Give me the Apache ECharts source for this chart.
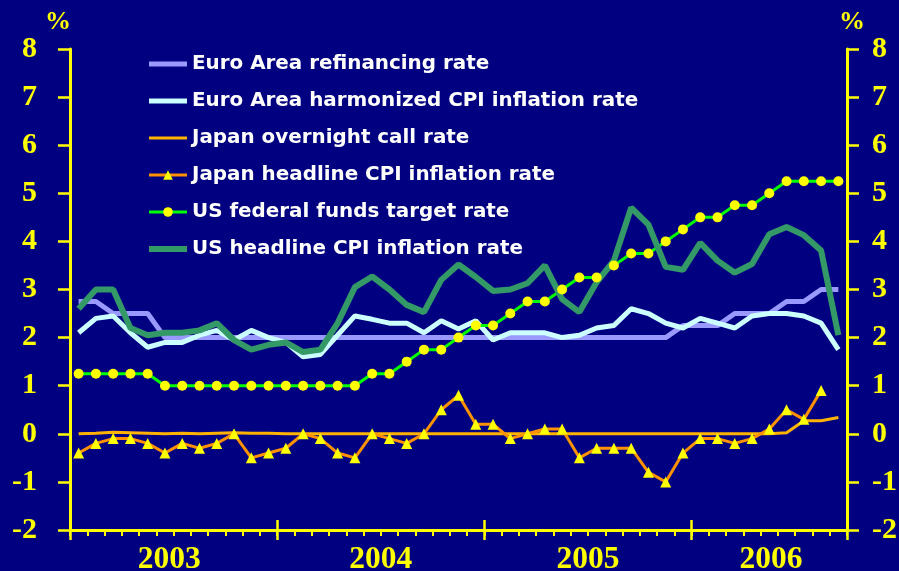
<!DOCTYPE html>
<html>
<head>
<meta charset="utf-8">
<script src="https://cdn.jsdelivr.net/npm/echarts@6/dist/echarts.min.js"></script>
<style>
html,body{margin:0;padding:0;background:#000080;}
#chart{width:899px;height:571px;}
</style>
</head>
<body>
<div id="chart"></div>
<script>
const months = [
 '2003-01','2003-02','2003-03','2003-04','2003-05','2003-06','2003-07','2003-08','2003-09','2003-10','2003-11','2003-12',
 '2004-01','2004-02','2004-03','2004-04','2004-05','2004-06','2004-07','2004-08','2004-09','2004-10','2004-11','2004-12',
 '2005-01','2005-02','2005-03','2005-04','2005-05','2005-06','2005-07','2005-08','2005-09','2005-10','2005-11','2005-12',
 '2006-01','2006-02','2006-03','2006-04','2006-05','2006-06','2006-07','2006-08','2006-09'
];
const yearLabels = ['2003','2004','2005','2006'];

const euroRefi = [
 2.75,2.75,2.5,2.5,2.5,2.0,2.0,2.0,2.0,2.0,2.0,2.0,
 2.0,2.0,2.0,2.0,2.0,2.0,2.0,2.0,2.0,2.0,2.0,2.0,
 2.0,2.0,2.0,2.0,2.0,2.0,2.0,2.0,2.0,2.0,2.0,2.25,
 2.25,2.25,2.5,2.5,2.5,2.75,2.75,3.0,3.0
];
const euroHicp = [
 2.1,2.4,2.45,2.1,1.8,1.9,1.9,2.05,2.15,1.95,2.15,2.0,
 1.9,1.6,1.65,2.05,2.45,2.38,2.3,2.3,2.1,2.35,2.18,2.35,
 1.95,2.1,2.1,2.1,2.0,2.05,2.2,2.25,2.6,2.5,2.3,2.2,
 2.4,2.3,2.2,2.45,2.5,2.5,2.45,2.3,1.75
];
const japanCall = [
 0.0,0.01,0.03,0.02,0.01,0.0,0.01,0.0,0.01,0.02,0.01,0.01,
 0.0,0.0,0.0,0.0,0.0,0.0,0.0,0.0,0.0,0.0,0.0,0.0,
 0.0,0.0,0.0,0.0,0.0,0.0,0.0,0.0,0.0,0.0,0.0,0.0,
 0.0,0.0,0.0,0.0,0.0,0.02,0.27,0.27,0.34
];
const japanCpi = [
 -0.4,-0.2,-0.1,-0.1,-0.2,-0.4,-0.2,-0.3,-0.2,0.0,-0.5,-0.4,
 -0.3,0.0,-0.1,-0.4,-0.5,0.0,-0.1,-0.2,0.0,0.5,0.8,0.2,
 0.2,-0.1,0.0,0.1,0.1,-0.5,-0.3,-0.3,-0.3,-0.8,-1.0,-0.4,
 -0.1,-0.1,-0.2,-0.1,0.1,0.5,0.3,0.9,null
];
const usFedFunds = [
 1.25,1.25,1.25,1.25,1.25,1.0,1.0,1.0,1.0,1.0,1.0,1.0,
 1.0,1.0,1.0,1.0,1.0,1.25,1.25,1.5,1.75,1.75,2.0,2.25,
 2.25,2.5,2.75,2.75,3.0,3.25,3.25,3.5,3.75,3.75,4.0,4.25,
 4.5,4.5,4.75,4.75,5.0,5.25,5.25,5.25,5.25
];
const usCpi = [
 2.6,3.0,3.0,2.2,2.05,2.1,2.1,2.15,2.3,1.95,1.75,1.85,
 1.9,1.7,1.75,2.3,3.05,3.27,3.0,2.68,2.53,3.2,3.52,3.26,
 2.97,3.0,3.13,3.5,2.8,2.53,3.15,3.6,4.7,4.35,3.47,3.41,
 3.97,3.6,3.35,3.53,4.15,4.3,4.13,3.81,2.05
];

const YEL = '#FFFF00';
const serif = '"Liberation Serif","Times New Roman",serif';
const sans = '"DejaVu Sans",Verdana,sans-serif';

const chart = echarts.init(document.getElementById('chart'), null, {renderer:'canvas'});

const majorTick = (i) => i % 12 === 0 || i === months.length;

const yAxisCommon = {
  type:'value', min:-2, max:8, interval:1,
  splitLine:{show:false},
  axisLine:{show:true, onZero:false, lineStyle:{color:YEL, width:3}},
  axisTick:{show:true, length:12, lineStyle:{color:YEL, width:2.5}},
  name:'%',
  nameLocation:'end',
  nameGap:14,
  nameTextStyle:{color:YEL, fontFamily:serif, fontWeight:'bold', fontSize:26}
};

const S = {
  refi:'Euro Area refinancing rate',
  hicp:'Euro Area harmonized CPI inflation rate',
  call:'Japan overnight call rate',
  jcpi:'Japan headline CPI inflation rate',
  ff:'US federal funds target rate',
  ucpi:'US headline CPI inflation rate'
};

chart.setOption({
  backgroundColor:'#000080',
  animation:false,
  grid:{left:70, right:52, top:49, bottom:41, containLabel:false, outerBoundsMode:'none'},
  legend:{
    orient:'vertical', left:146, top:54, padding:0, itemWidth:38, itemHeight:12, itemGap:17,
    textStyle:{color:'#FFFFFF', fontFamily:sans, fontWeight:'bold', fontSize:19.9},
    data:[
      {name:S.refi, itemStyle:{opacity:0}, lineStyle:{width:5}},
      {name:S.hicp, itemStyle:{opacity:0}, lineStyle:{width:5}},
      {name:S.call, itemStyle:{opacity:0}, lineStyle:{width:3}},
      {name:S.jcpi, lineStyle:{width:3}},
      {name:S.ff, lineStyle:{width:3}},
      {name:S.ucpi, itemStyle:{opacity:0}, lineStyle:{width:6}}
    ]
  },
  xAxis:[
    {type:'category', data:months, boundaryGap:true, position:'bottom',
     axisLine:{show:true, onZero:false, lineStyle:{color:YEL, width:3}},
     axisTick:{show:true, interval:0, length:6, lineStyle:{color:YEL, width:2}},
     axisLabel:{show:false}, splitLine:{show:false}},
    {type:'category', data:months, boundaryGap:true, position:'bottom',
     axisLine:{show:false, onZero:false},
     axisTick:{show:true, interval:majorTick, length:10, lineStyle:{color:YEL, width:2.5}},
     axisLabel:{show:false}},
    {type:'category', data:months, boundaryGap:true, position:'bottom',
     axisLine:{show:false, onZero:false},
     axisTick:{show:true, inside:true, interval:majorTick, length:10, lineStyle:{color:YEL, width:2.5}},
     axisLabel:{show:false}},
    {type:'value', min:0, max:months.length, position:'bottom',
     axisLine:{show:false, onZero:false}, axisTick:{show:false}, splitLine:{show:false},
     axisLabel:{show:true, customValues:[5.75,18,30,40.6], margin:14,
       color:YEL, fontFamily:serif, fontWeight:'bold', fontSize:31.5,
       formatter:function(v){ const m={5.75:0,18:1,30:2,40.6:3}; return yearLabels[m[v]]; }}}
  ],
  yAxis:[
    Object.assign({}, yAxisCommon, {position:'left',
      nameTextStyle:Object.assign({}, yAxisCommon.nameTextStyle, {padding:[0,24,0,0]}),
      axisLabel:{color:YEL, fontFamily:serif, fontWeight:'bold', fontSize:30, margin:33, padding:[4,0,0,0]}}),
    Object.assign({}, yAxisCommon, {position:'right',
      nameTextStyle:Object.assign({}, yAxisCommon.nameTextStyle, {padding:[0,0,0,10]}),
      axisLabel:{color:YEL, fontFamily:serif, fontWeight:'bold', fontSize:30, margin:25, padding:[4,0,0,0]}})
  ],
  series:[
    {name:S.refi, type:'line', data:euroRefi, symbol:'none',
     lineStyle:{color:'#9999FF', width:5}, itemStyle:{color:'#9999FF'}},
    {name:S.hicp, type:'line', data:euroHicp, symbol:'none',
     lineStyle:{color:'#CCFFFF', width:5}, itemStyle:{color:'#CCFFFF'}},
    {name:S.call, type:'line', data:japanCall, symbol:'none',
     lineStyle:{color:'#FFB300', width:3}, itemStyle:{color:'#FFB300'}},
    {name:S.jcpi, type:'line', data:japanCpi, symbol:'triangle', symbolSize:11,
     showAllSymbol:true,
     lineStyle:{color:'#FF9200', width:3}, itemStyle:{color:YEL, borderWidth:0}},
    {name:S.ff, type:'line', data:usFedFunds, symbol:'circle', symbolSize:10,
     showAllSymbol:true,
     lineStyle:{color:'#00FF00', width:3}, itemStyle:{color:YEL, borderWidth:0}},
    {name:S.ucpi, type:'line', data:usCpi, symbol:'none',
     lineStyle:{color:'#339966', width:6}, itemStyle:{color:'#339966'}}
  ]
});
</script>
</body>
</html>
